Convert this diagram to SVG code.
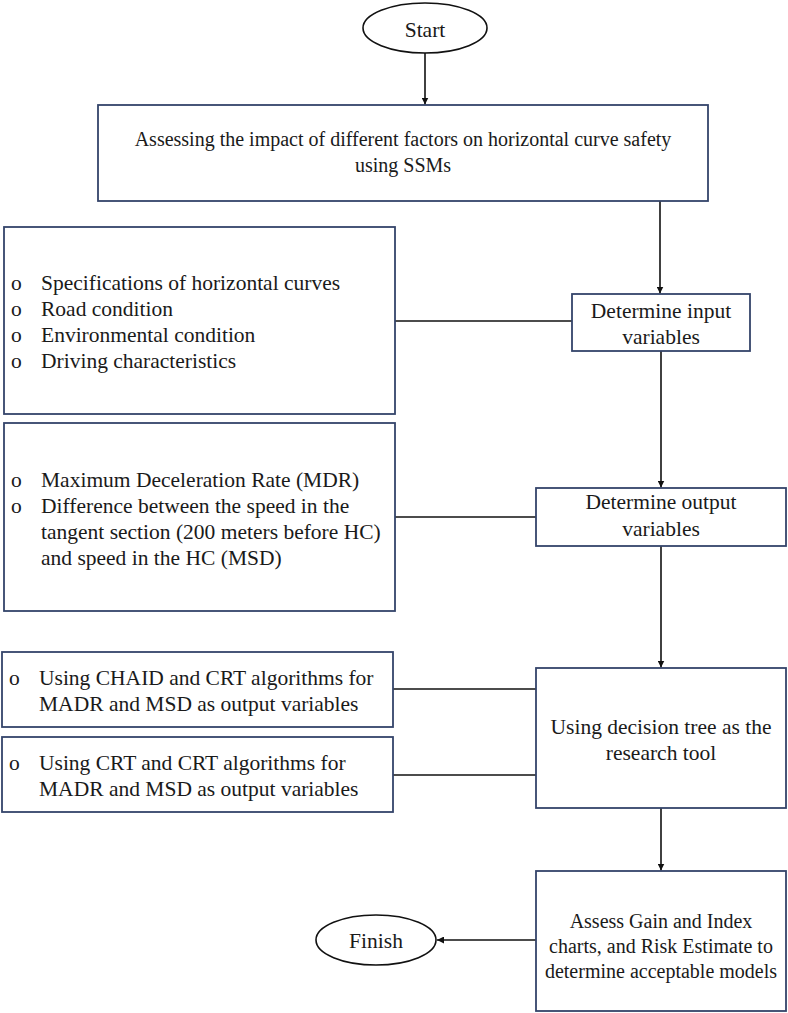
<svg xmlns="http://www.w3.org/2000/svg" width="788" height="1013" viewBox="0 0 788 1013">
<style>
.box{fill:#ffffff;stroke:#34446a;stroke-width:1.8}
.ell{fill:#ffffff;stroke:#111111;stroke-width:1.6}
.t{font-family:"Liberation Serif","Times New Roman",serif;font-size:21.5px;fill:#1a1a1a}
.s{font-size:20px}
.c{text-anchor:middle}
.ln{stroke:#111111;stroke-width:1.6;fill:none}
</style>
<defs>
<marker id="ah" viewBox="0 0 10 10" refX="10" refY="5" markerWidth="7" markerHeight="7" markerUnits="userSpaceOnUse" orient="auto">
<path d="M0,0 L10,5 L0,10 z" fill="#111111"/>
</marker>
</defs>
<rect width="788" height="1013" fill="#ffffff"/>
<g id="connectors">
<line class="ln" x1="425" y1="53" x2="425" y2="104.5" marker-end="url(#ah)"/>
<line class="ln" x1="660" y1="201" x2="660" y2="293.5" marker-end="url(#ah)"/>
<line class="ln" x1="395" y1="321" x2="572" y2="321"/>
<line class="ln" x1="661" y1="351" x2="661" y2="487.5" marker-end="url(#ah)"/>
<line class="ln" x1="395" y1="517" x2="536" y2="517"/>
<line class="ln" x1="661" y1="546" x2="661" y2="667.5" marker-end="url(#ah)"/>
<line class="ln" x1="393" y1="689" x2="536" y2="689"/>
<line class="ln" x1="393" y1="775" x2="536" y2="775"/>
<line class="ln" x1="661" y1="808" x2="661" y2="870.5" marker-end="url(#ah)"/>
<line class="ln" x1="536" y1="940" x2="437" y2="940" marker-end="url(#ah)"/>
</g>
<g id="start">
<ellipse class="ell" cx="425" cy="28" rx="62" ry="25"/>
<text class="t c" x="425" y="37">Start</text>
</g>
<g id="assessing">
<rect class="box" x="98" y="105" width="610" height="96"/>
<text class="t c s" x="403" y="146">Assessing the impact of different factors on horizontal curve safety</text>
<text class="t c s" x="403" y="172">using SSMs</text>
</g>
<g id="input-list">
<rect class="box" x="4" y="227" width="391" height="187"/>
<text class="t" x="11" y="290">o</text><text class="t" x="41" y="290">Specifications of horizontal curves</text>
<text class="t" x="11" y="316">o</text><text class="t" x="41" y="316">Road condition</text>
<text class="t" x="11" y="342">o</text><text class="t" x="41" y="342">Environmental condition</text>
<text class="t" x="11" y="368">o</text><text class="t" x="41" y="368">Driving characteristics</text>
</g>
<g id="input">
<rect class="box" x="572" y="294" width="178" height="57"/>
<text class="t c" x="661" y="318">Determine input</text>
<text class="t c" x="661" y="344">variables</text>
</g>
<g id="output-list">
<rect class="box" x="4" y="423" width="391" height="188"/>
<text class="t" x="11" y="487">o</text><text class="t" x="41" y="487">Maximum Deceleration Rate (MDR)</text>
<text class="t" x="11" y="513">o</text><text class="t" x="41" y="513">Difference between the speed in the</text>
<text class="t" x="41" y="539">tangent section (200 meters before HC)</text>
<text class="t" x="41" y="565">and speed in the HC (MSD)</text>
</g>
<g id="output">
<rect class="box" x="536" y="488" width="250" height="58"/>
<text class="t c" x="661" y="509">Determine output</text>
<text class="t c" x="661" y="536">variables</text>
</g>
<g id="chaid">
<rect class="box" x="2" y="652" width="391" height="75"/>
<text class="t" x="9" y="685">o</text><text class="t" x="39" y="685">Using CHAID and CRT algorithms for</text>
<text class="t" x="39" y="711">MADR and MSD as output variables</text>
</g>
<g id="crt">
<rect class="box" x="2" y="737" width="391" height="75"/>
<text class="t" x="9" y="770">o</text><text class="t" x="39" y="770">Using CRT and CRT algorithms for</text>
<text class="t" x="39" y="796">MADR and MSD as output variables</text>
</g>
<g id="decision">
<rect class="box" x="536" y="668" width="250" height="140"/>
<text class="t c" x="661" y="734">Using decision tree as the</text>
<text class="t c" x="661" y="760">research tool</text>
</g>
<g id="assess">
<rect class="box" x="536" y="871" width="250" height="140"/>
<text class="t c s" x="661" y="928">Assess Gain and Index</text>
<text class="t c s" x="661" y="953">charts, and Risk Estimate to</text>
<text class="t c s" x="661" y="978">determine acceptable models</text>
</g>
<g id="finish">
<ellipse class="ell" cx="376" cy="940" rx="60" ry="25"/>
<text class="t c" x="376" y="948">Finish</text>
</g>
</svg>
